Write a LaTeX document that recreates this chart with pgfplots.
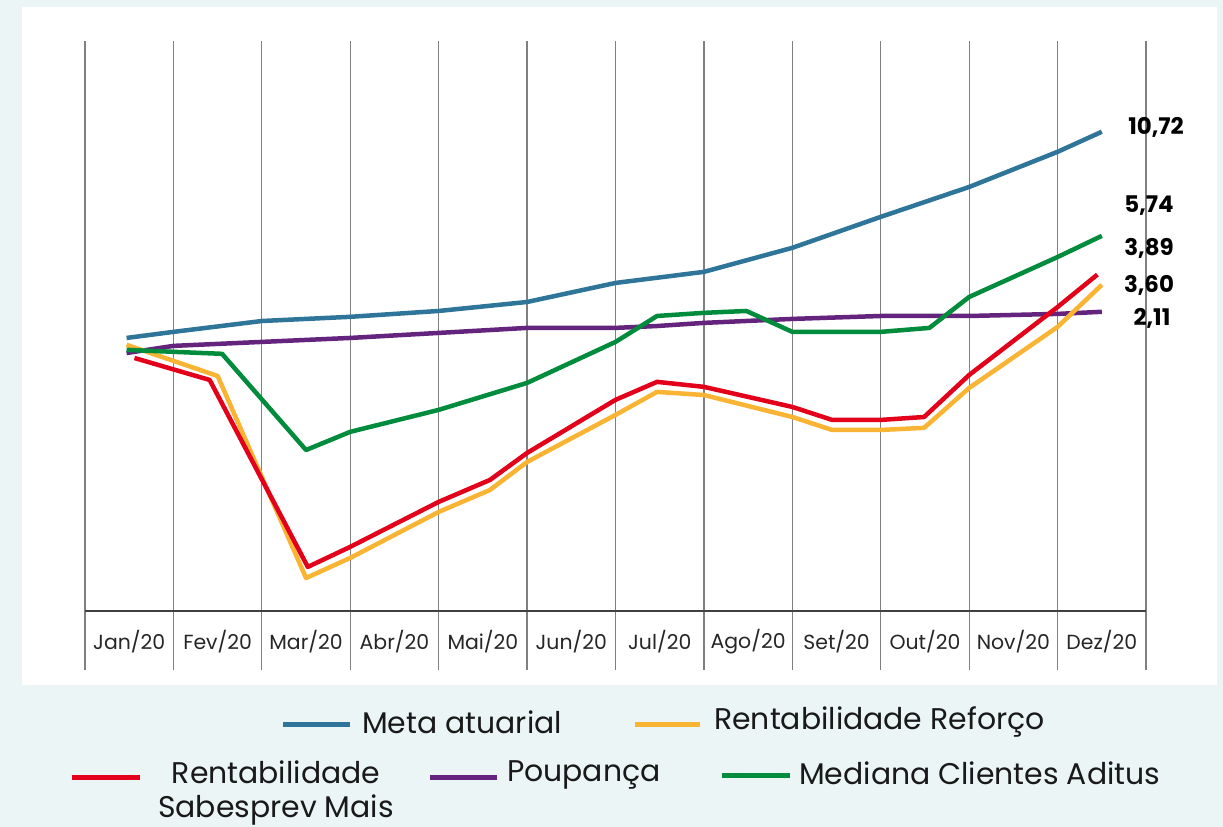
\documentclass[border=0pt]{standalone}
\usepackage{fontspec}
\setmainfont{Poppins}
\usepackage{pgfplots}
\pgfplotsset{compat=1.18}
\definecolor{bg}{HTML}{EBF5F5}
\definecolor{cmeta}{RGB}{46,117,153}
\definecolor{cref}{RGB}{248,180,50}
\definecolor{csab}{RGB}{226,0,26}
\definecolor{cpou}{RGB}{100,35,125}
\definecolor{cmed}{RGB}{0,140,60}
\begin{document}
\begin{tikzpicture}[x=1bp,y=1bp]
\fill[bg] (0,0) rectangle (1223,-827);
\fill[white] (22,-7) rectangle (1217,-685);
\begin{axis}[
  at={(85bp,-670bp)}, anchor=south west, scale only axis,
  width=1061bp, height=629bp,
  xmin=0, xmax=12, ymin=-15.02, ymax=15.06,
  axis line style={draw=none},
  xtick={0.5,1.5,...,11.5},
  xticklabels={Jan/20,Fev/20,Mar/20,Abr/20,Mai/20,Jun/20,Jul/20,Ago/20,Set/20,Out/20,Nov/20,Dez/20},
  xticklabel style={anchor=center, yshift=28bp, font=\fontsize{20.5}{20.5}\selectfont, text=black!85},
  minor xtick={0,1,...,12},
  xminorgrids=true,
  minor grid style={color={rgb,255:red,128;green,128;blue,128}, line width=1.3bp},
  major tick length=0pt, minor tick length=0pt,
  ytick=\empty,
  clip=false,
  every axis plot/.append style={line width=4.5bp, line join=round, no markers},
]
\addplot[cpou] coordinates {(0.47,0.14) (1,0.48) (2,0.67) (3,0.86) (4,1.10) (5,1.34) (6,1.34) (6.47,1.43) (7,1.58) (8,1.77) (9,1.91) (10,1.91) (11,2.01) (11.5,2.11)};
\addplot[cref] coordinates {(0.47,0.53) (1.5,-0.96) (2.5,-10.62) (3,-9.66) (4,-7.46) (4.58,-6.41) (5,-5.07) (6,-2.82) (6.47,-1.72) (7,-1.87) (8,-2.92) (8.45,-3.54) (9,-3.54) (9.49,-3.44) (10,-1.53) (11,1.39) (11.5,3.40)};
\addplot[csab] coordinates {(0.56,-0.10) (1.41,-1.15) (2.52,-10.09) (3,-9.13) (4,-6.98) (4.58,-5.93) (5,-4.64) (6,-2.10) (6.47,-1.24) (7,-1.48) (8,-2.44) (8.45,-3.06) (9,-3.06) (9.49,-2.92) (10,-0.91) (11,2.34) (11.45,3.89)};
\addplot[cmed] coordinates {(0.47,0.29) (1.55,0.10) (2.5,-4.50) (3,-3.63) (4,-2.58) (5,-1.29) (6,0.67) (6.47,1.91) (7,2.06) (7.48,2.15) (8,1.15) (9,1.15) (9.55,1.34) (10,2.82) (11,4.73) (11.5,5.74)};
\addplot[cmeta] coordinates {(0.47,0.86) (1,1.15) (2,1.67) (3,1.87) (4,2.15) (5,2.58) (6,3.49) (7,4.02) (8,5.17) (9,6.65) (10,8.08) (11,9.76) (11.5,10.72)};
\draw[line width=1.2bp, color={rgb,255:red,64;green,64;blue,64}] (axis cs:0,-12.195) -- (axis cs:12,-12.195);
\end{axis}
\begin{scope}[every node/.style={font=\bfseries\fontsize{23}{23}\selectfont, inner sep=0pt}]
\node at (1156,-127) {10,72};
\node at (1149,-206) {5,74};
\node at (1149,-248) {3,89};
\node at (1149,-285) {3,60};
\node at (1152,-318) {2,11};
\end{scope}
\begin{scope}[every node/.style={font=\fontsize{30}{34}\selectfont, inner sep=0pt, text=black!90}]
\draw[cmeta, line width=5bp] (283,-724) -- (350,-724);
\node[anchor=west] at (362,-722) {Meta atuarial};
\draw[cref, line width=5bp] (635,-724) -- (700,-724);
\node[anchor=west] at (714,-722) {Rentabilidade Reforço};
\draw[csab, line width=5bp] (72,-777) -- (140,-777);
\node[align=center] at (276,-793) {Rentabilidade\\Sabesprev Mais};
\draw[cpou, line width=5bp] (430,-777) -- (497,-777);
\node[anchor=west] at (507,-775) {Poupança};
\draw[cmed, line width=5bp] (722,-775) -- (790,-775);
\node[anchor=west] at (799,-773) {Mediana Clientes Aditus};
\end{scope}
\end{tikzpicture}
\end{document}
